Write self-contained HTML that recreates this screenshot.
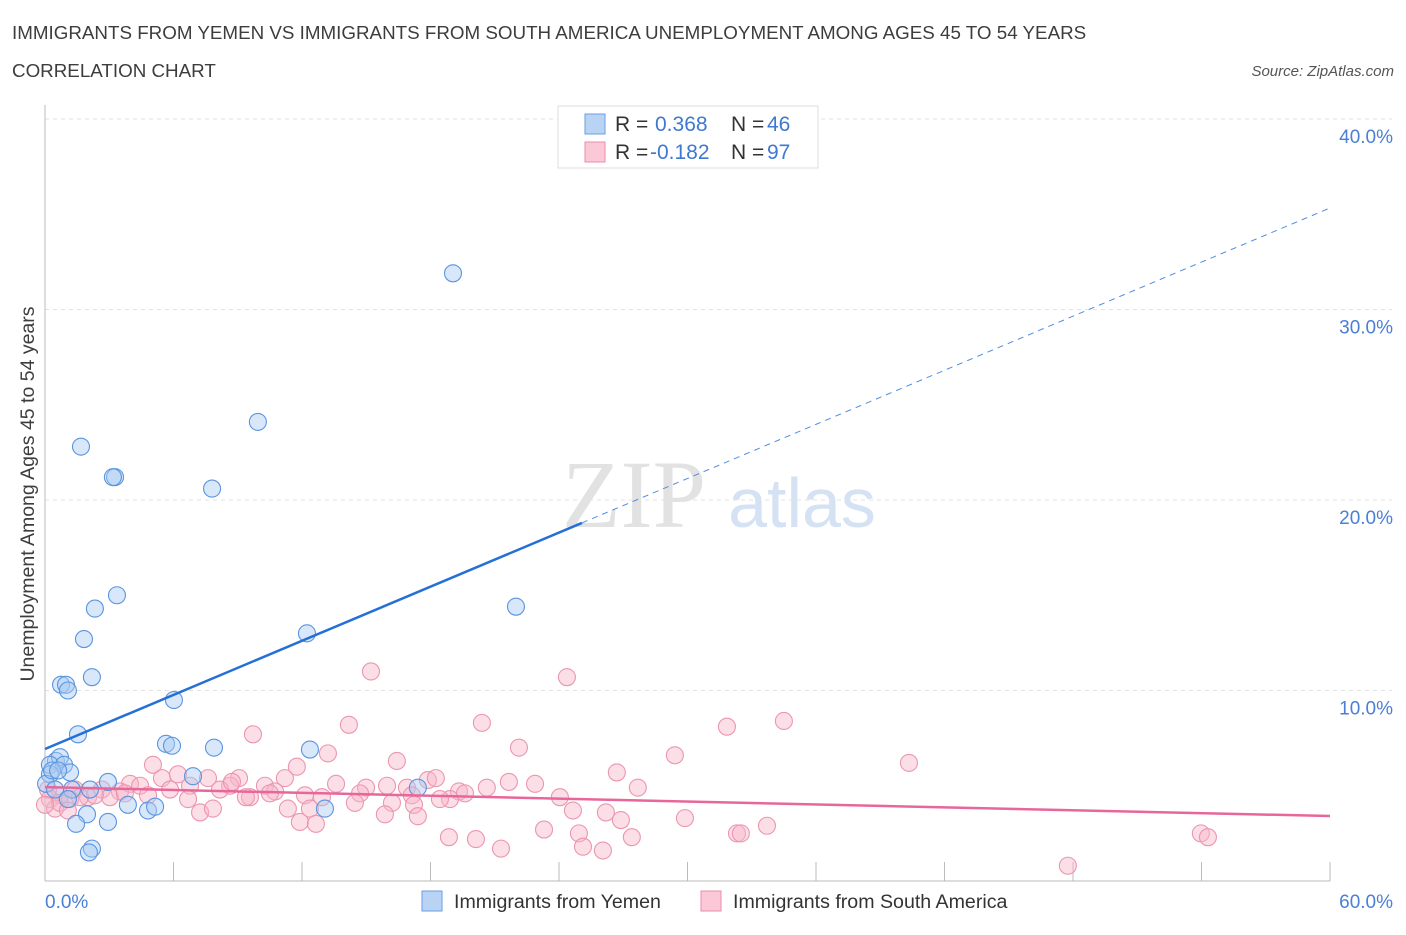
<!DOCTYPE html>
<html><head><meta charset="utf-8"><style>
body{margin:0;background:#fff;font-family:"Liberation Sans",sans-serif;}
</style></head><body>
<svg width="1406" height="930" xmlns="http://www.w3.org/2000/svg" id="chart">
<text x="12" y="39" font-size="18.8" fill="#3d3d3d">IMMIGRANTS FROM YEMEN VS IMMIGRANTS FROM SOUTH AMERICA UNEMPLOYMENT AMONG AGES 45 TO 54 YEARS</text>
<text x="12" y="77" font-size="18.8" fill="#3d3d3d">CORRELATION CHART</text>
<text x="1394" y="76" font-size="15" fill="#555" font-style="italic" text-anchor="end">Source: ZipAtlas.com</text>
<g>
<text x="634" y="527" font-size="96" fill="#e2e2e2" font-family="Liberation Serif,serif" text-anchor="middle">ZIP</text>
<text x="802" y="527" font-size="70" fill="#d4e2f4" text-anchor="middle">atlas</text>
</g>
<g id="grid"></g>
<g id="axes"></g>
<g id="pink"></g>
<g id="blue"></g>
<g id="trends"></g>
<text transform="translate(34,494) rotate(-90)" font-size="19.5" fill="#3d3d3d" text-anchor="middle">Unemployment Among Ages 45 to 54 years</text>
<g>
<rect x="558" y="106" width="260" height="62" fill="#fff" stroke="#ddd"/>
<rect x="585" y="114" width="20" height="20" fill="#b9d3f5" stroke="#6a9ee6"/>
<rect x="585" y="142" width="20" height="20" fill="#fbc8d7" stroke="#ea8ea9"/>
<text x="615" y="131" font-size="21" fill="#333">R = </text><text x="655" y="131" font-size="21" fill="#3f78d2">0.368</text>
<text x="731" y="131" font-size="21" fill="#333">N = </text><text x="767" y="131" font-size="21" fill="#3f78d2">46</text>
<text x="615" y="159" font-size="21" fill="#333">R = </text><text x="650" y="159" font-size="21" fill="#3f78d2">-0.182</text>
<text x="731" y="159" font-size="21" fill="#333">N = </text><text x="767" y="159" font-size="21" fill="#3f78d2">97</text>
</g>
<g>
<rect x="422" y="891" width="20" height="20" fill="#b9d3f5" stroke="#6a9ee6"/>
<text x="454" y="908" font-size="19.6" fill="#333">Immigrants from Yemen</text>
<rect x="701" y="891" width="20" height="20" fill="#fbc8d7" stroke="#ea8ea9"/>
<text x="733" y="908" font-size="19.6" fill="#333">Immigrants from South America</text>
</g>
</svg>
<script>
const yemenX=[19.05,9.94,1.68,3.27,3.17,7.80,3.36,21.99,2.33,1.82,12.23,0.75,0.98,1.07,2.19,6.02,1.54,5.65,5.93,7.89,12.37,0.51,0.70,0.23,0.89,0.23,1.17,2.94,6.91,17.41,0.05,1.26,2.10,3.87,2.94,1.96,1.45,4.81,5.14,13.07,2.19,2.05,0.47,1.07,0.33,0.61];
const yemenY=[31.9,24.1,22.8,21.2,21.2,20.6,15.0,14.4,14.3,12.7,13.0,10.3,10.3,10.0,10.7,9.5,7.7,7.2,7.1,7.0,6.9,6.3,6.5,6.1,6.1,5.6,5.7,5.2,5.5,4.9,5.1,4.8,4.8,4.0,3.1,3.5,3.0,3.7,3.9,3.8,1.7,1.5,4.8,4.3,5.8,5.8];
const saX=[15.22,24.37,20.40,14.19,31.84,34.50,9.71,22.13,13.21,29.41,40.34,5.04,16.43,26.70,5.46,7.61,9.06,11.76,11.20,13.59,14.99,15.97,17.88,18.25,16.90,19.33,20.63,21.66,22.88,27.68,3.97,4.44,5.84,6.77,8.64,10.27,2.66,1.40,3.50,0.70,0.23,0.47,0.14,2.01,3.03,4.81,6.68,8.17,9.57,10.74,12.14,12.93,14.71,17.13,18.91,19.61,24.04,7.24,7.84,11.34,12.37,14.47,16.20,17.23,18.44,9.38,10.50,11.90,12.65,15.87,17.41,24.65,26.19,26.89,29.88,23.30,24.93,32.31,32.49,33.71,53.97,54.30,18.86,20.12,21.29,25.12,26.05,27.40,47.76,0.70,0.0,1.17,2.33,1.63,3.73,6.21,8.73,1.07];
const saY=[11.0,10.7,8.3,8.2,8.1,8.4,7.7,7.0,6.7,6.6,6.2,6.1,6.3,5.7,5.4,5.4,5.4,6.0,5.4,5.1,4.9,5.0,5.3,5.4,4.9,4.7,4.9,5.2,5.1,4.9,5.1,5.0,4.8,5.0,5.0,5.0,4.8,4.8,4.7,4.5,4.3,3.8,4.8,4.4,4.4,4.5,4.3,4.8,4.4,4.7,4.5,4.4,4.6,4.5,4.3,4.6,4.4,3.6,3.8,3.8,3.8,4.1,4.1,4.0,4.3,4.4,4.6,3.1,3.0,3.5,3.4,3.7,3.6,3.2,3.3,2.7,2.5,2.5,2.5,2.9,2.5,2.3,2.3,2.2,1.7,1.8,1.6,2.3,0.8,4.1,4.0,4.3,4.5,4.4,4.6,5.6,5.2,3.7];
const yTicks=[10,20,30,40];
const yTickLabels=["10.0%","20.0%","30.0%","40.0%"];
const xTicks=[0,6,12,18,24,30,36,42,48,54,60];
const yemenTrend=[6.93,35.33];
const yemenSolidEnd=25.07;
const saTrend=[4.93,3.41];
const NS="http://www.w3.org/2000/svg";
const X=v=>45+v*21.417, Y=v=>881-v*19.05;
function mk(tag,attrs,parent){const e=document.createElementNS(NS,tag);for(const k in attrs)e.setAttribute(k,attrs[k]);parent.appendChild(e);return e;}
const grid=document.getElementById('grid'),axes=document.getElementById('axes');
yTicks.forEach((t,i)=>{
 const l=mk('line',{x1:45,x2:1392,y1:Y(t),y2:Y(t),stroke:'#e2e2e2','stroke-dasharray':'4,4'},grid);
 
 
 const tx=mk('text',{x:1393,y:Y(t)+24,'font-size':19,fill:'#4a7fd4','text-anchor':'end'},axes);
 tx.textContent=yTickLabels[i];
 
 
});
mk('line',{x1:45,x2:45,y1:105,y2:881,stroke:'#bbb'},axes);
mk('line',{x1:45,x2:1330,y1:881,y2:881,stroke:'#bbb'},axes);
xTicks.forEach(t=>{const l=mk('line',{x1:X(t),x2:X(t),y1:862,y2:881,stroke:'#bbb'},axes);
 
 });
let a=mk('text',{x:45,y:908,'font-size':19,fill:'#4a7fd4'},axes);a.textContent='0.0%';

let b=mk('text',{x:1393,y:908,'font-size':19,fill:'#4a7fd4','text-anchor':'end'},axes);b.textContent='60.0%';

function pts(xs,ys,g,fill,stroke,name){xs.forEach((x,i)=>{const c=mk('circle',{cx:X(x),cy:Y(ys[i]),r:8.5,fill:fill,'fill-opacity':0.45,stroke:stroke,'stroke-width':1.1},g);
 
 });}
pts(saX,saY,document.getElementById('pink'),'#f9b6ca','#eb96b0','south-america-point');
pts(yemenX,yemenY,document.getElementById('blue'),'#a9c9f2','#5a95e0','yemen-point');
const tr=document.getElementById('trends');
const ly=x=>yemenTrend[0]+(yemenTrend[1]-yemenTrend[0])*x/60;
let t1=mk('line',{x1:X(0),y1:Y(ly(0)),x2:X(yemenSolidEnd),y2:Y(ly(yemenSolidEnd)),stroke:'#2470d6','stroke-width':2.5},tr);

let t2=mk('line',{x1:X(yemenSolidEnd),y1:Y(ly(yemenSolidEnd)),x2:X(60),y2:Y(ly(60)),stroke:'#4f8ddf','stroke-width':1,'stroke-dasharray':'6,5'},tr);

let t3=mk('line',{x1:X(0),y1:Y(saTrend[0]),x2:X(60),y2:Y(saTrend[1]),stroke:'#e8679a','stroke-width':2.5},tr);

</script>
</body></html>
